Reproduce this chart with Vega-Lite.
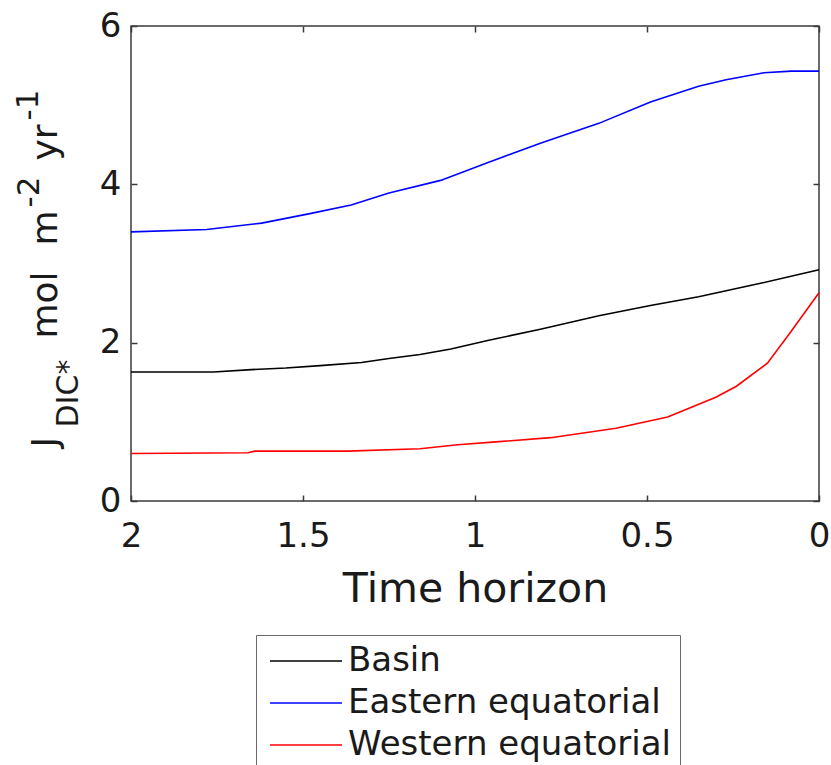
{
  "$schema": "https://vega.github.io/schema/vega-lite/v6.json",
  "width": 688,
  "height": 475,
  "autosize": {"type": "none"},
  "padding": {"left": 131, "top": 26, "right": 12, "bottom": 264},
  "background": "white",
  "data": {
    "values": [
      {"t": 2.0, "v": 1.63, "region": "Basin"},
      {"t": 1.76, "v": 1.63, "region": "Basin"},
      {"t": 1.65, "v": 1.66, "region": "Basin"},
      {"t": 1.55, "v": 1.68, "region": "Basin"},
      {"t": 1.45, "v": 1.71, "region": "Basin"},
      {"t": 1.33, "v": 1.75, "region": "Basin"},
      {"t": 1.25, "v": 1.80, "region": "Basin"},
      {"t": 1.16, "v": 1.85, "region": "Basin"},
      {"t": 1.07, "v": 1.92, "region": "Basin"},
      {"t": 0.96, "v": 2.03, "region": "Basin"},
      {"t": 0.81, "v": 2.17, "region": "Basin"},
      {"t": 0.64, "v": 2.34, "region": "Basin"},
      {"t": 0.49, "v": 2.47, "region": "Basin"},
      {"t": 0.35, "v": 2.58, "region": "Basin"},
      {"t": 0.17, "v": 2.75, "region": "Basin"},
      {"t": 0.0, "v": 2.92, "region": "Basin"},
      {"t": 2.0, "v": 3.40, "region": "Eastern equatorial"},
      {"t": 1.78, "v": 3.43, "region": "Eastern equatorial"},
      {"t": 1.62, "v": 3.51, "region": "Eastern equatorial"},
      {"t": 1.48, "v": 3.63, "region": "Eastern equatorial"},
      {"t": 1.36, "v": 3.74, "region": "Eastern equatorial"},
      {"t": 1.25, "v": 3.89, "region": "Eastern equatorial"},
      {"t": 1.10, "v": 4.05, "region": "Eastern equatorial"},
      {"t": 0.96, "v": 4.28, "region": "Eastern equatorial"},
      {"t": 0.81, "v": 4.52, "region": "Eastern equatorial"},
      {"t": 0.64, "v": 4.77, "region": "Eastern equatorial"},
      {"t": 0.49, "v": 5.04, "region": "Eastern equatorial"},
      {"t": 0.35, "v": 5.24, "region": "Eastern equatorial"},
      {"t": 0.27, "v": 5.32, "region": "Eastern equatorial"},
      {"t": 0.16, "v": 5.41, "region": "Eastern equatorial"},
      {"t": 0.08, "v": 5.43, "region": "Eastern equatorial"},
      {"t": 0.0, "v": 5.43, "region": "Eastern equatorial"},
      {"t": 2.0, "v": 0.60, "region": "Western equatorial"},
      {"t": 1.66, "v": 0.61, "region": "Western equatorial"},
      {"t": 1.64, "v": 0.63, "region": "Western equatorial"},
      {"t": 1.37, "v": 0.63, "region": "Western equatorial"},
      {"t": 1.16, "v": 0.66, "region": "Western equatorial"},
      {"t": 1.05, "v": 0.71, "region": "Western equatorial"},
      {"t": 0.93, "v": 0.75, "region": "Western equatorial"},
      {"t": 0.78, "v": 0.80, "region": "Western equatorial"},
      {"t": 0.59, "v": 0.92, "region": "Western equatorial"},
      {"t": 0.44, "v": 1.06, "region": "Western equatorial"},
      {"t": 0.30, "v": 1.31, "region": "Western equatorial"},
      {"t": 0.24, "v": 1.45, "region": "Western equatorial"},
      {"t": 0.15, "v": 1.74, "region": "Western equatorial"},
      {"t": 0.085, "v": 2.12, "region": "Western equatorial"},
      {"t": 0.0, "v": 2.63, "region": "Western equatorial"}
    ]
  },
  "config": {
    "font": "DejaVu Sans",
    "view": {"stroke": "#3a3a3a", "strokeWidth": 1.5},
    "axis": {
      "domain": false,
      "grid": false,
      "tickColor": "#3a3a3a",
      "tickWidth": 1.5,
      "tickSize": -6,
      "labelFlush": false,
      "labelFont": "DejaVu Sans",
      "labelFontSize": 34,
      "labelColor": "#1a1a1a",
      "titleFont": "DejaVu Sans",
      "titleFontWeight": "normal",
      "titleColor": "#1a1a1a"
    }
  },
  "resolve": {"axis": {"x": "independent", "y": "independent"}},
  "layer": [
    {
      "mark": {"type": "line", "strokeWidth": 1.6, "clip": false},
      "encoding": {
        "x": {
          "field": "t", "type": "quantitative",
          "scale": {"domain": [0, 2], "reverse": true, "nice": false},
          "axis": {
            "orient": "bottom",
            "values": [0, 0.5, 1, 1.5, 2],
            "labelExpr": "'' + datum.value",
            "labelPadding": 24,
            "title": "Time horizon",
            "titleFontSize": 41,
            "titlePadding": 16
          }
        },
        "y": {
          "field": "v", "type": "quantitative",
          "scale": {"domain": [0, 6], "nice": false, "zero": false},
          "axis": {
            "orient": "left",
            "values": [0, 2, 4, 6],
            "labelPadding": 16,
            "title": "J",
            "titleFontSize": 36,
            "titleAngle": 270,
            "titleAlign": "left",
            "titleBaseline": "alphabetic",
            "titleX": -75,
            "titleY": 421
          }
        },
        "color": {
          "field": "region", "type": "nominal",
          "scale": {
            "domain": ["Basin", "Eastern equatorial", "Western equatorial"],
            "range": ["#000000", "#0000ff", "#ff0000"]
          },
          "legend": {
            "orient": "none",
            "legendX": 125,
            "legendY": 609,
            "direction": "vertical",
            "title": null,
            "strokeColor": "#6a6a6a",
            "fillColor": "white",
            "padding": 9,
            "labelFont": "DejaVu Sans",
            "labelFontSize": 34,
            "labelColor": "#1a1a1a",
            "labelLimit": 0,
            "symbolType": "M-1,0H5",
            "symbolSize": 576,
            "symbolStrokeWidth": 1.6,
            "labelOffset": 49,
            "rowPadding": 8
          }
        }
      }
    },
    {
      "mark": {"type": "point", "opacity": 0},
      "encoding": {
        "x": {
          "field": "t", "type": "quantitative",
          "scale": {"domain": [0, 2], "reverse": true, "nice": false},
          "axis": {"orient": "top", "values": [0, 0.5, 1, 1.5, 2], "labels": false, "title": null}
        },
        "y": {
          "field": "v", "type": "quantitative",
          "scale": {"domain": [0, 6], "nice": false, "zero": false},
          "axis": {"orient": "right", "values": [0, 2, 4, 6], "labels": false, "title": null}
        }
      }
    },
    {
      "mark": {"type": "point", "opacity": 0},
      "encoding": {
        "x": {"field": "t", "type": "quantitative", "axis": null},
        "y": {
          "field": "v", "type": "quantitative",
          "axis": {
            "orient": "left", "labels": false, "ticks": false,
            "title": "DIC*", "titleFontSize": 30, "titleAngle": 270,
            "titleAlign": "left", "titleBaseline": "alphabetic",
            "titleX": -54, "titleY": 401
          }
        }
      }
    },
    {
      "mark": {"type": "point", "opacity": 0},
      "encoding": {
        "x": {"field": "t", "type": "quantitative", "axis": null},
        "y": {
          "field": "v", "type": "quantitative",
          "axis": {
            "orient": "left", "labels": false, "ticks": false,
            "title": "mol", "titleFontSize": 36, "titleAngle": 270,
            "titleAlign": "left", "titleBaseline": "alphabetic",
            "titleX": -75, "titleY": 312
          }
        }
      }
    },
    {
      "mark": {"type": "point", "opacity": 0},
      "encoding": {
        "x": {"field": "t", "type": "quantitative", "axis": null},
        "y": {
          "field": "v", "type": "quantitative",
          "axis": {
            "orient": "left", "labels": false, "ticks": false,
            "title": "m", "titleFontSize": 36, "titleAngle": 270,
            "titleAlign": "left", "titleBaseline": "alphabetic",
            "titleX": -75, "titleY": 219
          }
        }
      }
    },
    {
      "mark": {"type": "point", "opacity": 0},
      "encoding": {
        "x": {"field": "t", "type": "quantitative", "axis": null},
        "y": {
          "field": "v", "type": "quantitative",
          "axis": {
            "orient": "left", "labels": false, "ticks": false,
            "title": "-2", "titleFontSize": 31, "titleAngle": 270,
            "titleAlign": "left", "titleBaseline": "alphabetic",
            "titleX": -93, "titleY": 181
          }
        }
      }
    },
    {
      "mark": {"type": "point", "opacity": 0},
      "encoding": {
        "x": {"field": "t", "type": "quantitative", "axis": null},
        "y": {
          "field": "v", "type": "quantitative",
          "axis": {
            "orient": "left", "labels": false, "ticks": false,
            "title": "yr", "titleFontSize": 36, "titleAngle": 270,
            "titleAlign": "left", "titleBaseline": "alphabetic",
            "titleX": -75, "titleY": 134
          }
        }
      }
    },
    {
      "mark": {"type": "point", "opacity": 0},
      "encoding": {
        "x": {"field": "t", "type": "quantitative", "axis": null},
        "y": {
          "field": "v", "type": "quantitative",
          "axis": {
            "orient": "left", "labels": false, "ticks": false,
            "title": "-1", "titleFontSize": 31, "titleAngle": 270,
            "titleAlign": "left", "titleBaseline": "alphabetic",
            "titleX": -94, "titleY": 94
          }
        }
      }
    }
  ]
}
